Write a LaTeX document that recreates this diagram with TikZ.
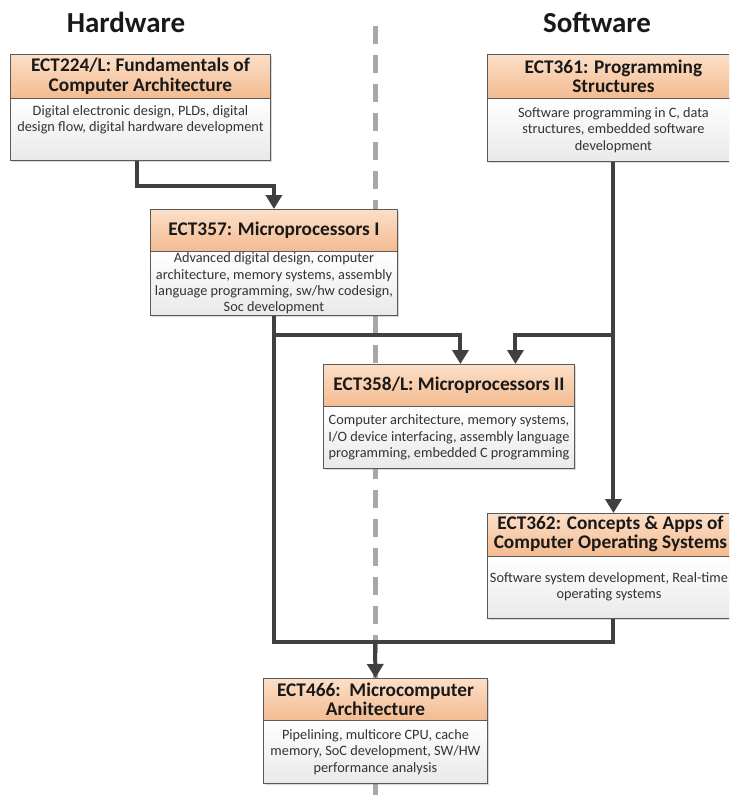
\documentclass[tikz,border=0pt]{standalone}
\usepackage{fontspec}
\setmainfont{Carlito}
\usetikzlibrary{arrows.meta,shadows}
\definecolor{hdtop}{HTML}{FCDFC8}
\definecolor{hdbot}{HTML}{F3BB90}
\definecolor{bdbot}{HTML}{E9E9E9}
\definecolor{edge}{HTML}{5A5A5A}
\definecolor{conn}{HTML}{404040}
\definecolor{dashc}{HTML}{A8A8A8}
\tikzset{
  hdr/.style={draw=edge, line width=0.9pt, top color=hdtop, bottom color=hdbot,
    inner sep=0pt, anchor=north west, align=center,
    font=\fontsize{19.3}{19.5}\selectfont\bfseries, text=black!90},
  bdy/.style={draw=edge, line width=0.9pt, top color=white, bottom color=bdbot,
    inner sep=0pt, anchor=north west, align=center,
    font=\fontsize{14.3}{16.4}\selectfont, text=black!80},
  shd/.style={drop shadow={shadow xshift=1.5pt, shadow yshift=-1.5pt, opacity=0.25, fill=black!60}},
  wire/.style={draw=conn, line width=4pt},
  arr/.style={wire, -{Triangle[length=14pt,width=16pt]}},
  sep/.style={draw=dashc, line width=5pt, dash pattern=on 18pt off 11pt},
  heading/.style={font=\fontsize{29}{32}\selectfont\bfseries, text=black!90, anchor=base}
}
\begin{document}
\begin{tikzpicture}[x=1pt,y=-1pt]
\useasboundingbox (0,0) rectangle (729,795);
\clip (0,0) rectangle (729,795);
\fill[white] (0,0) rectangle (729,795);

\node[heading] (hw) at (126,32) {Hardware};
\node[heading] (sw) at (597,32) {Software};

\coordinate (dtop) at (375,26);
\coordinate (dbot) at (375,800);
\draw[sep] (dtop) -- (dbot);

% ECT224
\path[shd, fill=white] (10,54) rectangle (270,160);
\node[hdr, minimum width=260pt, minimum height=44pt] (c224h) at (10,54)
  {ECT224/L: Fundamentals of\\Computer Architecture};
\node[bdy, minimum width=260pt, minimum height=62pt] (c224b) at (10,98)
  {Digital electronic design, PLDs, digital\\design flow, digital hardware development\\[5pt]};

% ECT361
\path[shd, fill=white] (487,54) rectangle (739,161);
\node[hdr, minimum width=252pt, minimum height=44pt] (c361h) at (487,54)
  {ECT361: Programming\\Structures};
\node[bdy, minimum width=252pt, minimum height=63pt] (c361b) at (487,98)
  {Software programming in C, data\\structures, embedded software\\development};

% ECT357
\path[shd, fill=white] (150,209) rectangle (397,315);
\node[hdr, minimum width=247pt, minimum height=42pt] (c357h) at (150,209)
  {ECT357: Microprocessors I};
\node[bdy, minimum width=247pt, minimum height=64pt] (c357b) at (150,251)
  {Advanced digital design, computer\\architecture, memory systems, assembly\\language programming, sw/hw codesign,\\Soc development};

% ECT358
\path[shd, fill=white] (323,364) rectangle (574,468);
\node[hdr, minimum width=251pt, minimum height=42pt] (c358h) at (323,364)
  {ECT358/L: Microprocessors II};
\node[bdy, minimum width=251pt, minimum height=62pt] (c358b) at (323,406)
  {Computer architecture, memory systems,\\I/O device interfacing, assembly language\\programming, embedded C programming};

% ECT362
\path[shd, fill=white] (487,513) rectangle (739,618);
\node[hdr, minimum width=252pt, minimum height=43pt] (c362h) at (487,513)
  {\begin{tabular}{@{}c@{\hspace{6pt}}}ECT362: Concepts \& Apps of\\Computer Operating Systems\end{tabular}};
\node[bdy, minimum width=252pt, minimum height=62pt] (c362b) at (487,556)
  {\begin{tabular}{@{}c@{\hspace{9pt}}}Software system development, Real-time\\operating systems\end{tabular}};

% ECT466
\path[shd, fill=white] (263,678) rectangle (487,783);
\node[hdr, minimum width=224pt, minimum height=42pt] (c466h) at (263,678)
  {ECT466:\ \ Microcomputer\\Architecture};
\node[bdy, minimum width=224pt, minimum height=63pt] (c466b) at (263,720)
  {Pipelining, multicore CPU, cache\\memory, SoC development, SW/HW\\performance analysis};

% connectors
\coordinate (jl) at (273.5,335);
\coordinate (jr) at (613,335);
\coordinate (bus) at (375,642);
\draw[arr] ([xshift=-3pt]c224b.south) -- ++(0,25) -| (c357h.north);
\draw[wire] (c357b.south) |- (bus) -| (c362b.south);
\draw[arr] (jl) -| ([xshift=11.5pt]c358h.north);
\draw[arr] (jr) -| ([xshift=66.5pt]c358h.north);
\draw[arr] (c361b.south) -- (c362h.north);
\draw[arr] (bus) -- (c466h.north);
\end{tikzpicture}
\end{document}
